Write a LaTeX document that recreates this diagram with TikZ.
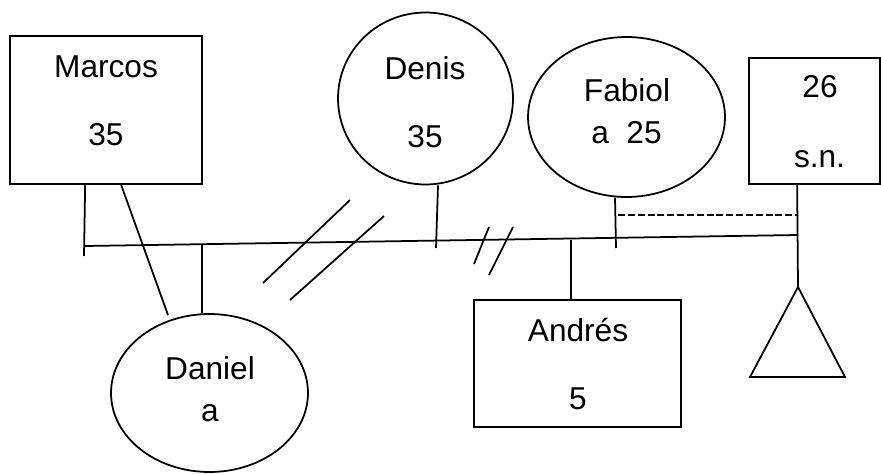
\documentclass[tikz,border=0pt]{standalone}
\usepackage{fontspec}
\setmainfont{Liberation Sans}
\usetikzlibrary{shapes.geometric}

\tikzset{
	man/.style={draw,rectangle,inner sep=0pt},
	woman/.style={draw,ellipse,inner sep=0pt},
	lbl/.style={font=\fontsize{18}{21}\selectfont,inner sep=0pt},
}

\begin{document}
\begin{tikzpicture}[x=0.02cm,y=-0.02cm,line width=1pt]
		\useasboundingbox (0,0) rectangle (881,473);
		\node[man,minimum width=3.84cm,minimum height=2.96cm] (marcos) at (106,110) {};
		\node[woman,minimum width=3.5cm,minimum height=3.44cm] (denis) at (425.5,98.5) {};
		\node[woman,minimum width=3.94cm,minimum height=3.2cm] (fabiola) at (626.5,117) {};
		\node[man,minimum width=2.62cm,minimum height=2.52cm] (sn) at (814.5,121) {};
		\node[woman,minimum width=3.94cm,minimum height=3.16cm] (daniela) at (209.5,393) {};
		\node[man,minimum width=4.14cm,minimum height=2.54cm] (andres) at (577.5,363.5) {};
		%
		\node[lbl] (marcosN) at (106,67) {Marcos};
		\node[lbl] (marcosA) at (106,135) {35};
		\node[lbl] (denisN) at (425,68) {Denis};
		\node[lbl] (denisA) at (425,136.5) {35};
		\node[lbl] (fabiolaN) at (627,90) {Fabiol};
		\node[lbl] (fabiolaA) at (626.5,132.5) {a\ \ 25};
		\node[lbl] (snA) at (820,87) {26};
		\node[lbl] (snN) at (819.5,159) {s.n.};
		\node[lbl] (danielaN) at (210,368.5) {Daniel};
		\node[lbl] (danielaA) at (210,413) {a};
		\node[lbl] (andresN) at (578,330) {Andrés};
		\node[lbl] (andresA) at (578,399) {5};
		%
		\coordinate (lineL) at (85,246);
		\coordinate (lineR) at (798,235);
		\coordinate (marcosT) at (84,256);
		\coordinate (danielaM) at (168,315);
		\coordinate (danielaT) at (202,245);
		\coordinate (denisT) at (436,248);
		\coordinate (fabiolaT) at (616,248);
		\coordinate (andresT) at (571,240);
		\coordinate (apex) at (798,287);
		\coordinate (baseL) at (750,377);
		\coordinate (baseR) at (845,377);
		%
		\draw (lineL) -- (lineR);
		\draw (marcos.south west) ++(76,0) -- (marcosT);
		\draw (marcos.south west) ++(112,0) -- (danielaM);
		\draw (danielaT) -- (danielaT |- daniela.north);
		\draw (denis.south) ++(12.5,0) -- (denisT);
		\draw (fabiola.south) ++(-11.5,0) -- (fabiolaT);
		\draw (andresT) -- (andresT |- andres.north);
		\draw (sn.south west) ++(49,0) -- (apex);
		\draw[line width=1.4pt,dash pattern=on 4pt off 1.6pt] (618,215) -- (798,215);
		\draw (apex) -- (baseL) -- (baseR) -- cycle;
		%
		\draw (263,283) -- (350,200);
		\draw (290,300) -- (384,216);
		\draw (474,264) -- (489,227);
		\draw (489,275) -- (513,227);
\end{tikzpicture}
\end{document}
